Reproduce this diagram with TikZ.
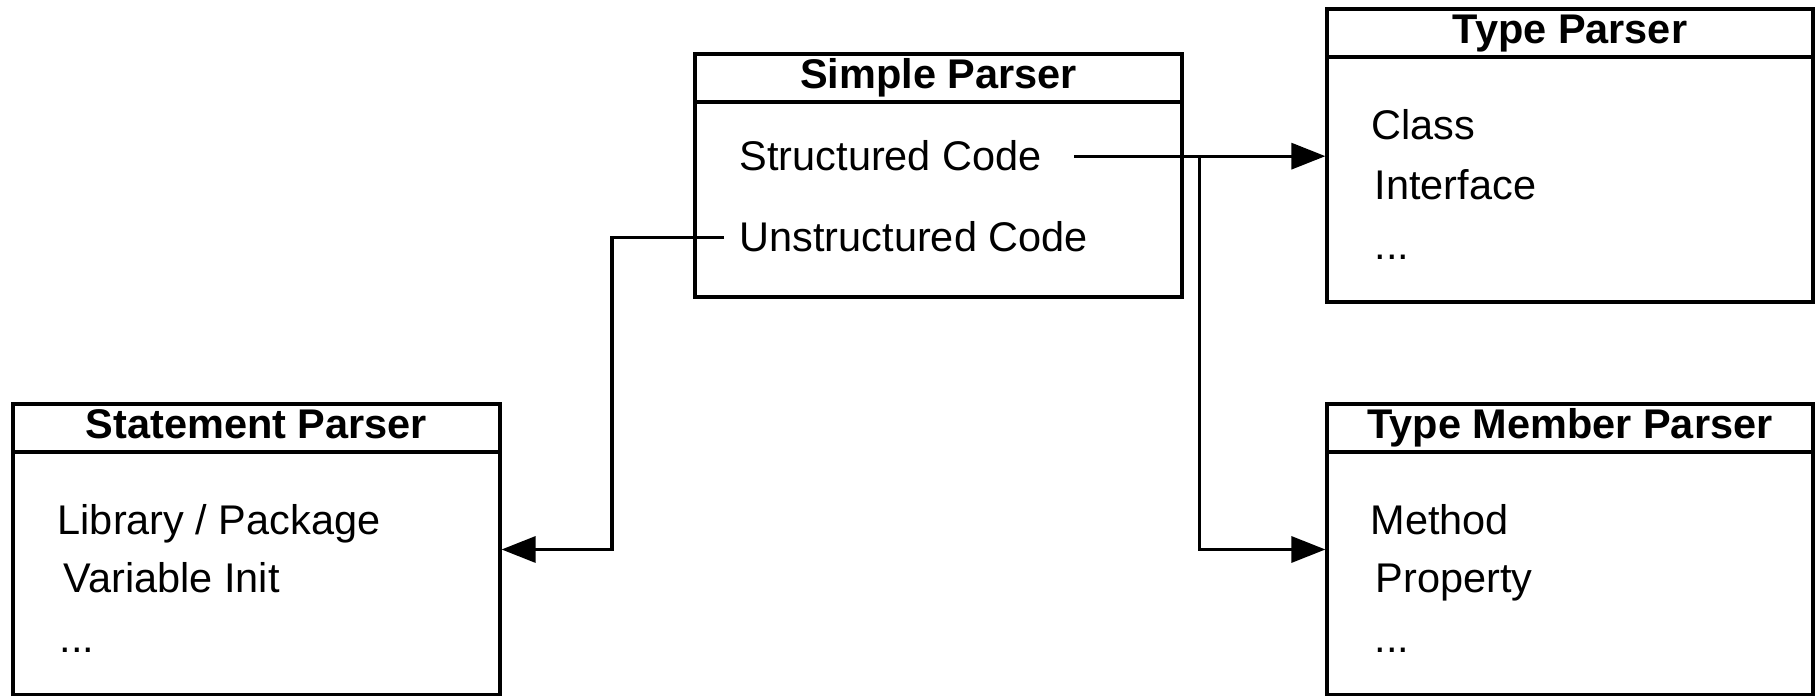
\documentclass[tikz,border=0pt]{standalone}
\usepackage{fontspec}
\setmainfont{Liberation Sans}
\usepackage{tikz}
\usetikzlibrary{arrows.meta, positioning, calc}
\tikzset{
    classbox/.style={rectangle, draw=black, line width=0.9pt, inner sep=0pt, minimum width=4.87cm},
    title/.style={rectangle, draw=black, line width=0.9pt, inner sep=0pt, minimum width=4.87cm, minimum height=0.48cm, text height=3mm, text depth=0.8mm, font=\fontsize{11.8pt}{14pt}\selectfont\bfseries, anchor=north},
    item/.style={inner sep=0pt, anchor=base west, font=\fontsize{11.8pt}{14pt}\selectfont},
    arr/.style={-{Triangle[length=3.4mm, width=2.6mm]}, line width=0.9pt, black}
}

\begin{document}
\begin{tikzpicture}
    \useasboundingbox (0,0) rectangle (18.15,6.96);

    % the four parsers
    \node[classbox, minimum height=2.43cm] (sp) at (9.385,5.205) {};
    \node[title] (sptitle) at (sp.north) {Simple Parser};
    \node[classbox, minimum width=4.86cm, minimum height=2.93cm] (tp) at (15.70,5.405) {};
    \node[title, minimum width=4.86cm] (tptitle) at (tp.north) {Type Parser};
    \node[classbox, minimum height=2.91cm] (stp) at (2.565,1.465) {};
    \node[title] (stptitle) at (stp.north) {Statement Parser};
    \node[classbox, minimum width=4.86cm, minimum height=2.91cm] (tmp) at (15.70,1.465) {};
    \node[title, minimum width=4.86cm] (tmptitle) at (tmp.north) {Type Member Parser};

    % entries
    \node[item] (sc) at (7.39,5.25) {Structured Code};
    \node[item] (uc) at (7.39,4.44) {Unstructured Code};

    \node[item] (cls) at (13.71,5.56) {Class};
    \node[item] (itf) at (13.74,4.96) {Interface};
    \node[item] (tpmore) at (13.74,4.36) {...};

    \node[item] (lib) at (0.57,1.61) {Library / Package};
    \node[item] (var) at (0.63,1.03) {Variable Init};
    \node[item] (stpmore) at (0.59,0.43) {...};

    \node[item] (meth) at (13.70,1.61) {Method};
    \node[item] (prop) at (13.75,1.03) {Property};
    \node[item] (tmpmore) at (13.74,0.43) {...};

    % connectors
    \draw[arr] ([xshift=3.2mm]sc.east) -- (sc.east -| tp.west);
    \draw[arr] ([xshift=3.2mm]sc.east) -- ++(1.25,0) |- (tmp.west);
    \draw[arr] ([xshift=-1.5mm]uc.west) -- ++(-1.12,0) |- (stp.east);
\end{tikzpicture}
\end{document}
